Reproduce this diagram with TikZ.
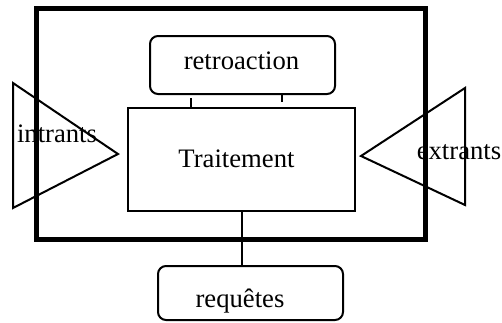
\documentclass[tikz,border=0pt]{standalone}
\usepackage{fontspec}
\setmainfont{Liberation Serif}
\begin{document}
\begin{tikzpicture}[x=0.75pt, y=-0.75pt, line width=1.5pt,
  box/.style={draw, rectangle, inner sep=0pt, outer sep=0pt},
  rbox/.style={box, rounded corners=6pt},
  lbl/.style={anchor=base, inner sep=0pt, font=\fontsize{20}{24}\selectfont}]
  \useasboundingbox (0,0) rectangle (502,322);
  % system boundary and the three boxes
  \node[box, line width=3.75pt, minimum width=291.4pt, minimum height=172.9pt] (systeme) at (231.25,124.25) {};
  \node[rbox, minimum width=138.75pt, minimum height=43.5pt] (retro) at (242.5,65) {};
  \node[box, minimum width=170.25pt, minimum height=77.6pt] (trait) at (241.5,159.5) {};
  \node[rbox, minimum width=138.75pt, minimum height=40.5pt] (req) at (250.5,293) {};
  % inputs and outputs
  \draw (13,83) -- (13,208) -- (118,154) -- cycle;
  \draw (465,88) -- (465,205) -- (361,156) -- cycle;
  % links
  \coordinate (t1) at (191,98);
  \coordinate (t2) at (282,102);
  \coordinate (m) at (242,211);
  \draw (t1) -- (t1 |- trait.north);
  \draw (t2 |- retro.south) -- (t2);
  \draw (m |- trait.south) -- (m |- req.north);
  % texts
  \node[lbl] (retrotxt) at (241.5,69) {retroaction};
  \node[lbl] (traittxt) at (236.5,167) {Traitement};
  \node[lbl] (reqtxt) at (240,307) {requêtes};
  \node[lbl] (intxt) at (57,142) {intrants};
  \node[lbl] (extxt) at (459,159) {extrants};
\end{tikzpicture}
\end{document}
